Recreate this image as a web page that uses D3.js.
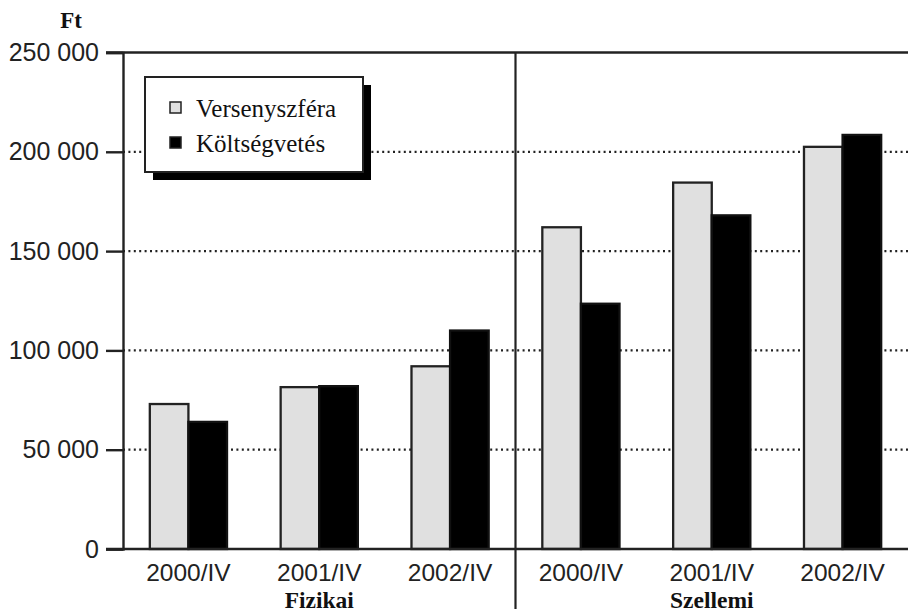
<!DOCTYPE html>
<html>
<head>
<meta charset="utf-8">
<script src="https://cdn.jsdelivr.net/npm/d3@7"></script>
<style>
html,body{margin:0;padding:0;background:#fff;}
svg{display:block;}
</style>
</head>
<body>
<svg id="chart" width="908" height="613"></svg>
<script>
const categories = ["F2000","F2001","F2002","S2000","S2001","S2002"];
const categoryLabels = ["2000/IV","2001/IV","2002/IV","2000/IV","2001/IV","2002/IV"];
const groups = ["Fizikai","Szellemi"];
const seriesNames = ["Versenyszféra","Költségvetés"];
const versenyszfera = [73000, 81500, 92000, 162000, 184500, 202500];
const koltsegvetes = [64000, 82000, 110000, 123500, 168000, 208500];
const yTicks = [0, 50000, 100000, 150000, 200000, 250000];
const yTickLabels = ["0","50 000","100 000","150 000","200 000","250 000"];
const colors = ["#e0e0e0", "#000000"];

const svg = d3.select("#chart");
const mLeft = 123, mRight = 908, mTop = 52.5, mBottom = 549;

const x = d3.scaleBand().domain(categories).range([mLeft, mRight]).paddingInner(0.41).paddingOuter(0.205);
const xs = d3.scaleBand().domain([0,1]).range([0, x.bandwidth()]);
const y = d3.scaleLinear().domain([0, 250000]).range([mBottom, mTop]);

// gridlines
svg.append("g").selectAll("line").data(yTicks.filter(d => d > 0 && d < 250000)).join("line")
  .attr("x1", mLeft).attr("x2", mRight)
  .attr("y1", d => y(d)).attr("y2", d => y(d))
  .attr("stroke", "#222").attr("stroke-width", 2.2).attr("stroke-dasharray", "2,3.4");

// bars
const series = [versenyszfera, koltsegvetes];
series.forEach((vals, si) => {
  svg.append("g").selectAll("rect").data(vals).join("rect")
    .attr("x", (d, i) => x(categories[i]) + xs(si))
    .attr("width", xs.bandwidth())
    .attr("y", d => y(d))
    .attr("height", d => y(0) - y(d))
    .attr("fill", colors[si])
    .attr("stroke", si === 0 ? "#222" : "#111")
    .attr("stroke-width", 2.3);
});

// top border
svg.append("line").attr("x1", mLeft - 17).attr("x2", mRight).attr("y1", mTop).attr("y2", mTop)
  .attr("stroke", "#222").attr("stroke-width", 2.4);

// y axis
const yAxis = d3.axisLeft(y).tickValues(yTicks).tickFormat((d, i) => yTickLabels[i]).tickSize(17).tickPadding(7);
const yg = svg.append("g").attr("transform", `translate(${mLeft},0)`).call(yAxis);
yg.select(".domain").attr("stroke", "#222").attr("stroke-width", 2.4);
yg.selectAll(".tick line").attr("stroke", "#222").attr("stroke-width", 2.4);
yg.selectAll(".tick text").attr("font-family", "'Liberation Sans', Arial, sans-serif")
  .attr("font-size", 25).attr("fill", "#222");

// x axis line
svg.append("line").attr("x1", mLeft - 17).attr("x2", mRight).attr("y1", mBottom).attr("y2", mBottom)
  .attr("stroke", "#222").attr("stroke-width", 2.4);

// divider
const divX = (x("F2002") + x.bandwidth() + x("S2000")) / 2;
svg.append("line").attr("x1", divX).attr("x2", divX).attr("y1", mTop).attr("y2", 609)
  .attr("stroke", "#222").attr("stroke-width", 2.2);

// category labels
svg.append("g").selectAll("text").data(categories).join("text")
  .attr("x", d => x(d) + x.bandwidth() / 2)
  .attr("y", 581)
  .attr("text-anchor", "middle")
  .attr("font-family", "'Liberation Sans', Arial, sans-serif")
  .attr("font-size", 24.5).attr("fill", "#222")
  .text((d, i) => categoryLabels[i]);

// group labels
const groupCenters = [x("F2001") + x.bandwidth() / 2, x("S2001") + x.bandwidth() / 2];
svg.append("g").selectAll("text").data(groups).join("text")
  .attr("x", (d, i) => groupCenters[i])
  .attr("y", 607.5)
  .attr("text-anchor", "middle")
  .attr("font-family", "'Liberation Serif', 'Times New Roman', serif")
  .attr("font-weight", "bold")
  .attr("font-size", 23.5).attr("fill", "#111")
  .text(d => d);

// unit label
svg.append("text").attr("x", 71).attr("y", 28).attr("text-anchor", "middle")
  .attr("font-family", "'Liberation Serif', 'Times New Roman', serif")
  .attr("font-weight", "bold").attr("font-size", 23).attr("fill", "#111")
  .text("Ft");

// legend
const lg = svg.append("g").attr("transform", "translate(145,77)");
lg.append("rect").attr("x", 8).attr("y", 8).attr("width", 218).attr("height", 95).attr("fill", "#000");
lg.append("rect").attr("x", 0).attr("y", 0).attr("width", 218).attr("height", 95)
  .attr("fill", "#fff").attr("stroke", "#222").attr("stroke-width", 2);
seriesNames.forEach((name, i) => {
  lg.append("rect").attr("x", 25).attr("y", 25 + i * 35).attr("width", 11).attr("height", 11)
    .attr("fill", colors[i]).attr("stroke", "#222").attr("stroke-width", 1.5);
  lg.append("text").attr("x", 51).attr("y", 40 + i * 35)
    .attr("font-family", "'Liberation Serif', 'Times New Roman', serif")
    .attr("font-size", 25).attr("fill", "#111").text(name);
});
</script>
</body>
</html>
